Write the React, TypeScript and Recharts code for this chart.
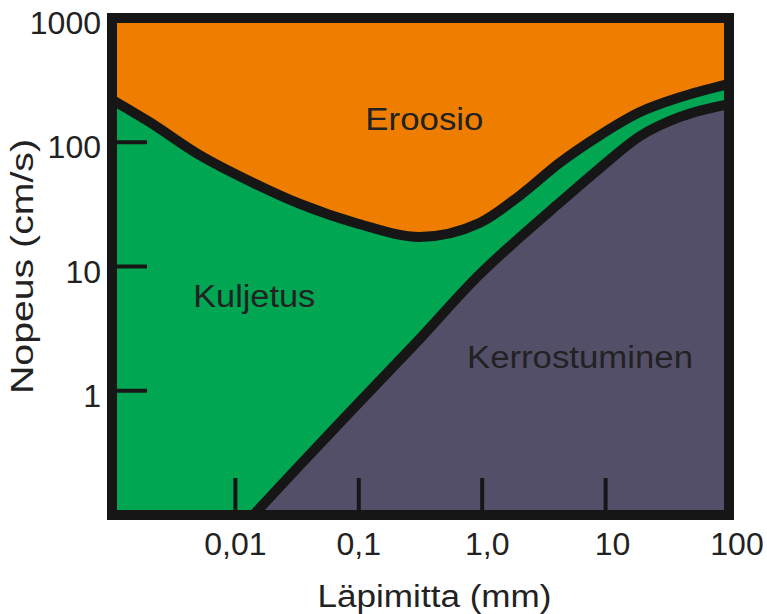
import React from "react";
import {
  ComposedChart,
  Area,
  Line,
  XAxis,
  YAxis,
  ReferenceDot,
  Label,
} from "recharts";

// ---- data ----
const diameter = [0.001, 0.002, 0.005, 0.014, 0.033, 0.1, 0.31, 0.96, 2, 4.3, 9, 19, 40, 100];
const erosion = [220, 146, 80, 47, 32, 22, 17.3, 22.5, 37, 69, 114, 175, 230, 295];
const deposition: (number | null)[] = [null, null, null, 0.1, 0.25, 0.8, 2.6, 8.7, 17, 33, 62, 112, 160, 203];

const xTicks = [0.01, 0.1, 1, 10, 100];
const xTickLabels = ["0,01", "0,1", "1,0", "10", "100"];
const yTicks = [1, 10, 100, 1000];
const yTickLabels = ["1", "10", "100", "1000"];

const xDomain = [0.001, 100];
const yMin = 0.1;
const yMax = 1000;

const regionNames = ["Eroosio", "Kuljetus", "Kerrostuminen"];
const regionX = [0.34, 0.0142, 6.2];
const regionY = [125, 4.7, 1.52];

const xTitle = "Läpimitta (mm)";
const yTitle = "Nopeus (cm/s)";

// ---- styles ----
const ORANGE = "#EF7E00";
const GREEN = "#00A651";
const PURPLE = "#544F69";
const BLACK = "#161616";
const TEXT = "#222222";
const FONT = "'Liberation Sans', Arial, Helvetica, sans-serif";
const regionTextLen = [118, 122, 226];
const xTickDx = [0, 0, 5, 7, 8];

const rows = diameter.map((d, i) => ({ d, erosion: erosion[i], deposition: deposition[i] }));

const axisLine = { stroke: BLACK, strokeWidth: 10, strokeLinecap: "square" as const };

const renderXTick = (props: any) => {
  const { x, y, payload } = props;
  const i = xTicks.indexOf(payload.value);
  return (
    <g>
      {i < xTicks.length - 1 && (
        <line x1={x} x2={x} y1={y - 5} y2={y - 37} stroke={BLACK} strokeWidth={4} />
      )}
      <text x={x + (xTickDx[i] || 0)} y={y + 40} textAnchor="middle" fontSize={32} fontFamily={FONT} fill={TEXT}>
        {xTickLabels[i]}
      </text>
    </g>
  );
};

const renderYTick = (props: any) => {
  const { x, y, payload } = props;
  const i = yTicks.indexOf(payload.value);
  return (
    <g>
      {i < yTicks.length - 1 && (
        <line x1={x + 5} x2={x + 35} y1={y} y2={y} stroke={BLACK} strokeWidth={4} />
      )}
      <text x={x - 11} y={y + 16} textAnchor="end" fontSize={32} fontFamily={FONT} fill={TEXT}>
        {yTickLabels[i]}
      </text>
    </g>
  );
};

const renderXTitle = (props: any) => {
  const vb = props.viewBox || { x: 112, y: 515, width: 617, height: 99 };
  return (
    <text
      x={vb.x + vb.width / 2 + 14}
      y={vb.y + 92}
      textAnchor="middle"
      fontSize={31}
      fontFamily={FONT}
      fill={TEXT}
      textLength={234}
      lengthAdjust="spacingAndGlyphs"
    >
      {xTitle}
    </text>
  );
};

const renderYTitle = (props: any) => {
  const vb = props.viewBox || { x: 0, y: 18, width: 112, height: 497 };
  const cx = vb.x + 33;
  const cy = vb.y + vb.height / 2;
  return (
    <text
      x={cx}
      y={cy}
      transform={`rotate(-90, ${cx}, ${cy})`}
      textAnchor="middle"
      fontSize={31}
      fontFamily={FONT}
      fill={TEXT}
      textLength={255}
      lengthAdjust="spacingAndGlyphs"
    >
      {yTitle}
    </text>
  );
};

const makeRegionLabel = (i: number) => (props: any) => {
  const vb = props.viewBox;
  const cx = vb.x + (vb.width || 0) / 2;
  const cy = vb.y + (vb.height || 0) / 2;
  return (
    <text
      x={cx}
      y={cy}
      textAnchor="middle"
      fontSize={31}
      fontFamily={FONT}
      fill={TEXT}
      textLength={regionTextLen[i]}
      lengthAdjust="spacingAndGlyphs"
    >
      {regionNames[i]}
    </text>
  );
};

export default function App() {
  return (
    <div style={{ position: "absolute", left: 0, top: 0, width: 767, height: 614, background: "#fff" }}>
      <ComposedChart
        width={767}
        height={614}
        data={rows}
        margin={{ top: 17, right: 37, bottom: 0, left: 0 }}
      >
        <Area
          dataKey="erosion"
          type="monotone"
          baseValue={yMax}
          fill={ORANGE}
          fillOpacity={1}
          stroke="none"
          isAnimationActive={false}
          activeDot={false}
        />
        <Area
          dataKey="erosion"
          type="monotone"
          baseValue={yMin}
          fill={GREEN}
          fillOpacity={1}
          stroke="none"
          isAnimationActive={false}
          activeDot={false}
        />
        <Area
          dataKey="deposition"
          type="monotone"
          baseValue={yMin}
          fill={PURPLE}
          fillOpacity={1}
          stroke="none"
          connectNulls={false}
          isAnimationActive={false}
          activeDot={false}
        />
        <Line
          dataKey="erosion"
          type="monotone"
          stroke={BLACK}
          strokeWidth={10}
          strokeLinejoin="round"
          dot={false}
          activeDot={false}
          isAnimationActive={false}
        />
        <Line
          dataKey="deposition"
          type="monotone"
          stroke={BLACK}
          strokeWidth={10}
          strokeLinejoin="round"
          dot={false}
          activeDot={false}
          connectNulls={false}
          isAnimationActive={false}
        />
        {/* invisible series bound to the frame axes so they render */}
        <Line
          xAxisId="top"
          yAxisId="right"
          dataKey="erosion"
          type="monotone"
          stroke="none"
          dot={false}
          activeDot={false}
          legendType="none"
          isAnimationActive={false}
        />
        <XAxis
          dataKey="d"
          type="number"
          scale="log"
          domain={xDomain}
          ticks={xTicks}
          interval={0}
          allowDataOverflow
          height={99}
          tickSize={0}
          tickMargin={0}
          tickLine={false}
          axisLine={axisLine}
          tick={renderXTick}
        >
          <Label content={renderXTitle} />
        </XAxis>
        <XAxis
          xAxisId="top"
          orientation="top"
          dataKey="d"
          type="number"
          scale="log"
          domain={xDomain}
          allowDataOverflow
          height={1}
          tick={false}
          tickLine={false}
          axisLine={axisLine}
        />
        <YAxis
          type="number"
          scale="log"
          domain={[yMin, yMax]}
          ticks={yTicks}
          interval={0}
          allowDataOverflow
          width={112}
          tickSize={0}
          tickMargin={0}
          tickLine={false}
          axisLine={axisLine}
          tick={renderYTick}
        >
          <Label content={renderYTitle} />
        </YAxis>
        <YAxis
          yAxisId="right"
          orientation="right"
          type="number"
          scale="log"
          domain={[yMin, yMax]}
          allowDataOverflow
          width={1}
          tick={false}
          tickLine={false}
          axisLine={axisLine}
        />
        {regionNames.map((name, i) => (
          <ReferenceDot
            key={name}
            x={regionX[i]}
            y={regionY[i]}
            r={1}
            fill="none"
            stroke="none"
            ifOverflow="visible"
            label={makeRegionLabel(i)}
          />
        ))}
      </ComposedChart>
    </div>
  );
}
